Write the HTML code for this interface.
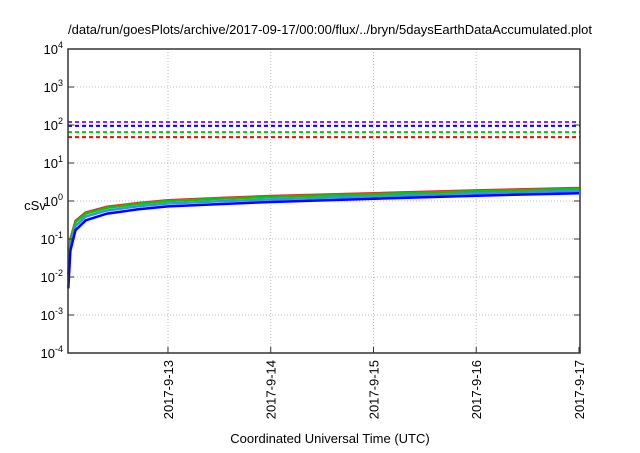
<!DOCTYPE html>
<html><head><meta charset="utf-8"><style>
body{margin:0;background:#fff;font-family:"Liberation Sans",sans-serif}
svg text{font-family:"Liberation Sans",sans-serif;fill:#000}
</style></head><body>
<svg id="c" width="640" height="448" xmlns="http://www.w3.org/2000/svg">
<rect width="640" height="448" fill="#fff"/>
<text x="330" y="34" font-size="13" text-anchor="middle">/data/run/goesPlots/archive/2017-09-17/00:00/flux/../bryn/5daysEarthDataAccumulated.plot</text>
<g id="grid"></g><g id="series"></g><g id="axes"></g>
<text x="35" y="210" font-size="13" text-anchor="middle">cSv</text>
<text x="330" y="443" font-size="13" text-anchor="middle">Coordinated Universal Time (UTC)</text>
</svg>
<script>
const xTickDays=[13,14,15,16,17];
const xTickLabels=["2017-9-13","2017-9-14","2017-9-15","2017-9-16","2017-9-17"];
const yTickExps=[-4,-3,-2,-1,0,1,2,3,4];
const times=[12.03,12.05,12.1,12.2,12.4,12.7,13,13.5,14,15,16,17];
const redVals=[0.012,0.1,0.3,0.5,0.7,0.88,1.05,1.2,1.35,1.6,1.9,2.2];
const greenVals=[0.01,0.09,0.28,0.47,0.66,0.84,1.0,1.14,1.28,1.52,1.8,2.1];
const lightBlueVals=[0.008,0.07,0.22,0.39,0.56,0.72,0.86,0.98,1.1,1.33,1.6,1.85];
const blueVals=[0.005,0.05,0.17,0.31,0.46,0.6,0.72,0.83,0.94,1.15,1.38,1.6];
const thresholdNames=["purple","blue","green","red"];
const thresholdVals=[120,95,65,48];
const thresholdColors=["#a020f0","#0000ff","#00cc00","#ff0000"];
const L=68,R=580,T=49,B=353,X0=12.027,X1=17.01,YMIN=-4,YMAX=4;
const xs=d=>L+(d-X0)/(X1-X0)*(R-L);
const ys=v=>T+(YMAX-Math.log10(v))/(YMAX-YMIN)*(B-T);
const NS="http://www.w3.org/2000/svg";
function mk(tag,parent,attrs){const e=document.createElementNS(NS,tag);for(const k in attrs)e.setAttribute(k,attrs[k]);parent.appendChild(e);return e;}
const grid=document.getElementById('grid'),ser=document.getElementById('series'),ax=document.getElementById('axes');
yTickExps.forEach(e=>{const y=ys(Math.pow(10,e));
 if(e>YMIN&&e<YMAX){const g=mk('line',grid,{x1:L,x2:R,y1:y,y2:y,stroke:'#bbb','stroke-dasharray':'1,2'});
 
 }
 const tk=mk('line',ax,{x1:L,x2:L+6,y1:y,y2:y,stroke:'#333'});
 
 
 const tk2=mk('line',ax,{x1:R-6,x2:R,y1:y,y2:y,stroke:'#333'});
 
 
 const t=mk('text',ax,{x:L-5,y:y+5,'font-size':'13','text-anchor':'end'});
 
 
 t.innerHTML='10<tspan dy="-6" font-size="9">'+e+'</tspan>';
});
xTickDays.forEach((d,i)=>{const x=xs(d);
 if(d<X1-0.05){const g=mk('line',grid,{x1:x,x2:x,y1:T,y2:B,stroke:'#bbb','stroke-dasharray':'1,2'});
 
 }
 const tk=mk('line',ax,{x1:x,x2:x,y1:B-6,y2:B,stroke:'#333'});
 
 
 const t=mk('text',ax,{x:0,y:0,'font-size':'13','text-anchor':'end',transform:'translate('+(x+5)+','+(B+7)+') rotate(-90)'});
 
 
 t.textContent=xTickLabels[i];
});
const frame=mk('rect',ax,{x:L,y:T,width:R-L,height:B-T,fill:'none',stroke:'#333','stroke-width':'1.5'});


thresholdVals.forEach((v,i)=>{const y=ys(v);
 const l=mk('line',ser,{x1:L,x2:R,y1:y,y2:y,stroke:thresholdColors[i],'stroke-width':'2','stroke-dasharray':'4,3'});
 
 
});
[[redVals,'#e03020','red'],[greenVals,'#00cc00','green'],[lightBlueVals,'#3a8cff','light-blue'],[blueVals,'#0000ff','blue']].forEach(([vals,c,n])=>{
 const d=vals.map((v,i)=>(i?'L':'M')+xs(times[i]).toFixed(1)+','+ys(v).toFixed(1)).join('');
 const p=mk('path',ser,{d:d,fill:'none',stroke:c,'stroke-width':'2.5','stroke-linejoin':'round'});
 
 
});
</script>
</body></html>
